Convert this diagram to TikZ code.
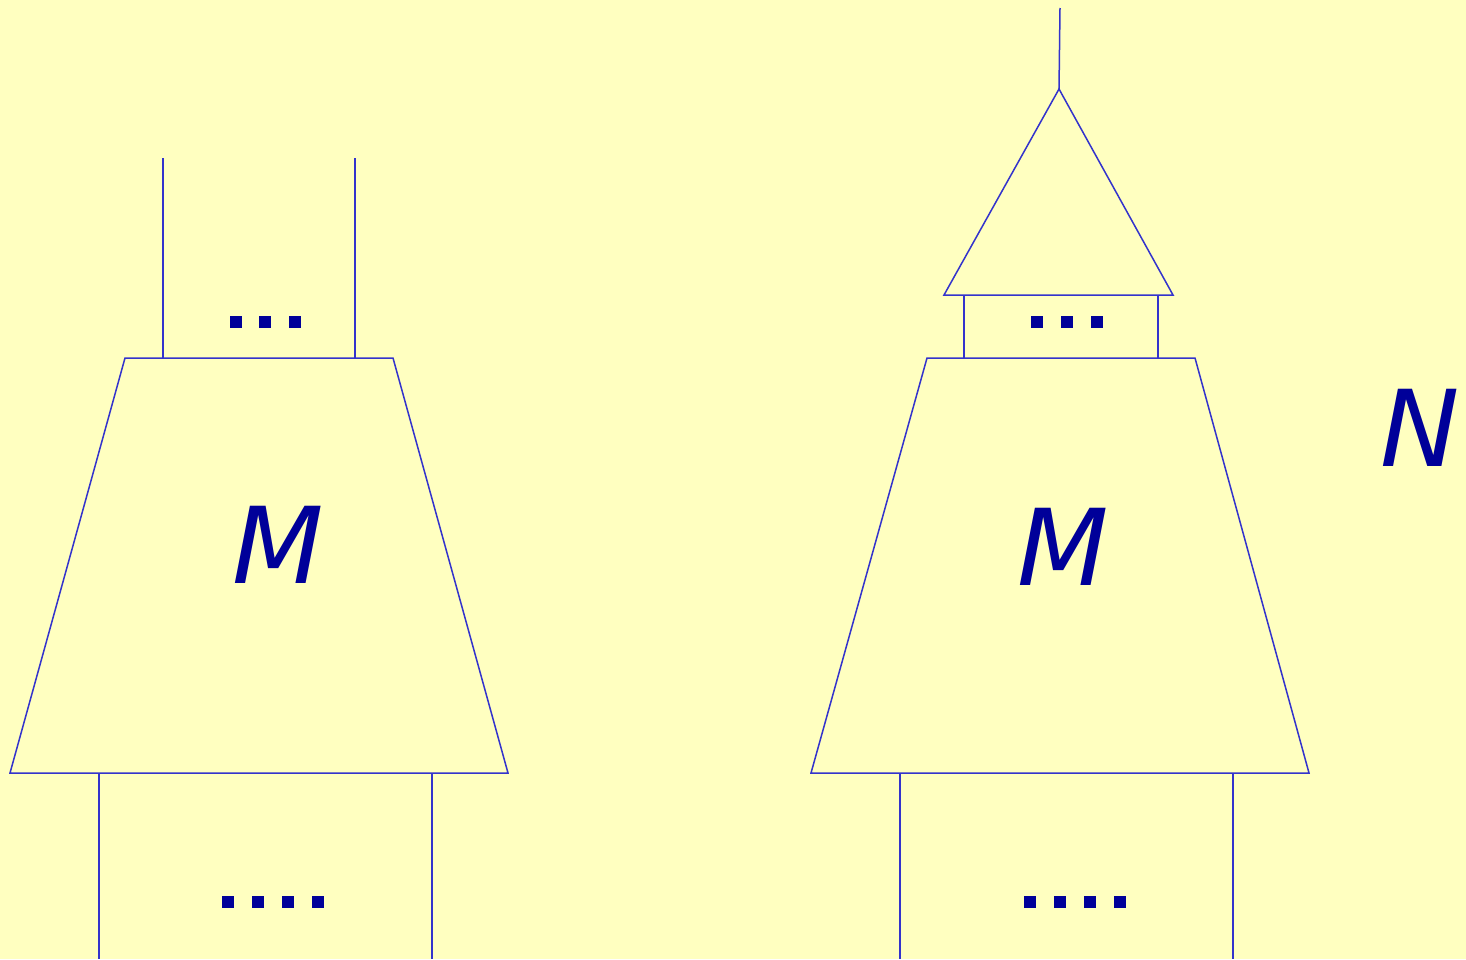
\documentclass[tikz,border=0pt]{standalone}
\usepackage{fontspec}
\setmainfont{DejaVu Sans}
\definecolor{bgyellow}{HTML}{FFFFC0}
\definecolor{linblue}{HTML}{3333CC}
\definecolor{txtblue}{HTML}{000099}
\begin{document}
\begin{tikzpicture}[x=1pt,y=-1pt,line width=1.5pt,
  wire/.style={draw=linblue},
  lbl/.style={text=txtblue,font=\fontsize{106}{110}\selectfont\itshape,inner sep=0pt}]
\fill[bgyellow] (0,0) rectangle (1466,959);
\useasboundingbox (0,0) rectangle (1466,959);

% left tree
\draw[wire] (10,773) -- (125,358) -- (393,358) -- (508,773) -- cycle;
\draw[wire] (163,158) -- (163,358);
\draw[wire] (355,158) -- (355,358);
\draw[wire] (99,773) -- (99,959);
\draw[wire] (432,773) -- (432,959);
\node[lbl] (m1) at (278,545) {M};
\foreach \x in {236,265,295} \fill[txtblue] (\x-6,316) rectangle (\x+6,328);
\foreach \x in {228,258,288,318} \fill[txtblue] (\x-6,896) rectangle (\x+6,908);

% right tree with the cap on top
\draw[wire] (811,773) -- (927,358) -- (1195,358) -- (1309,773) -- cycle;
\draw[wire] (964,295) -- (964,358);
\draw[wire] (1158,295) -- (1158,358);
\draw[wire] (944,295) -- (1059,89) -- (1173,295) -- cycle;
\draw[wire] (1059,89) -- (1060,8);
\draw[wire] (900,773) -- (900,959);
\draw[wire] (1233,773) -- (1233,959);
\node[lbl] (m2) at (1063,547) {M};
\foreach \x in {1037,1067,1097} \fill[txtblue] (\x-6,316) rectangle (\x+6,328);
\foreach \x in {1030,1060,1090,1120} \fill[txtblue] (\x-6,896) rectangle (\x+6,908);

\node[lbl] (n) at (1420,428) {N};
\end{tikzpicture}
\end{document}
